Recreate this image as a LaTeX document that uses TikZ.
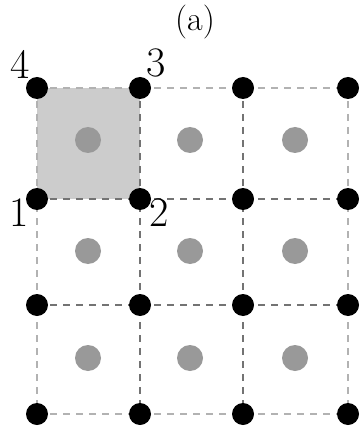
\documentclass[tikz,border=0pt]{standalone}
\begin{document}
\begin{tikzpicture}[x=1pt,y=-1pt,
  site/.style={circle,fill=black,inner sep=0pt,minimum size=22pt},
  cent/.style={circle,fill=black!40,inner sep=0pt,minimum size=26pt},
  outer/.style={draw=black!30,line width=2.5pt,dash pattern=on 7pt off 6pt},
  inner/.style={draw=black!55,line width=2.5pt,dash pattern=on 7pt off 6pt},
  lab/.style={font=\fontsize{42}{46}\selectfont,inner sep=0pt}]
\useasboundingbox (0,0) rectangle (361,430);
\fill[black!20] (37,88) rectangle (140,199);
% coordinates
\foreach \i/\x in {1/37,2/140,3/243,4/348}{
  \foreach \j/\y in {1/88,2/199,3/305,4/414}{
    \coordinate (p\i\j) at (\x,\y);
  }
}
% inner lines
\draw[inner] (p12) -- (p42);
\draw[inner] (p13) -- (p43);
\draw[inner] (p21) -- (p24);
\draw[inner] (p31) -- (p34);
% outer lines
\draw[outer] (p11) -- (p41) (p14) -- (p44) (p11) -- (p14) (p41) -- (p44);
% centers
\foreach \i/\x in {1/88,2/190,3/295}{
  \foreach \j/\y in {1/140,2/251,3/358}{
    \node[cent] (c\i\j) at (\x,\y) {};
  }
}
\foreach \i in {1,...,4}{
  \foreach \j in {1,...,4}{
    \node[site] (s\i\j) at (p\i\j) {};
  }
}
\node[lab] (l4) at (20,64) {4};
\node[lab] (l3) at (156,63) {3};
\node[lab] (l1) at (19,213) {1};
\node[lab] (l2) at (159,213) {2};
\node[font=\fontsize{34}{38}\selectfont,inner sep=0pt] (title) at (195,22) {(a)};
\end{tikzpicture}
\end{document}
